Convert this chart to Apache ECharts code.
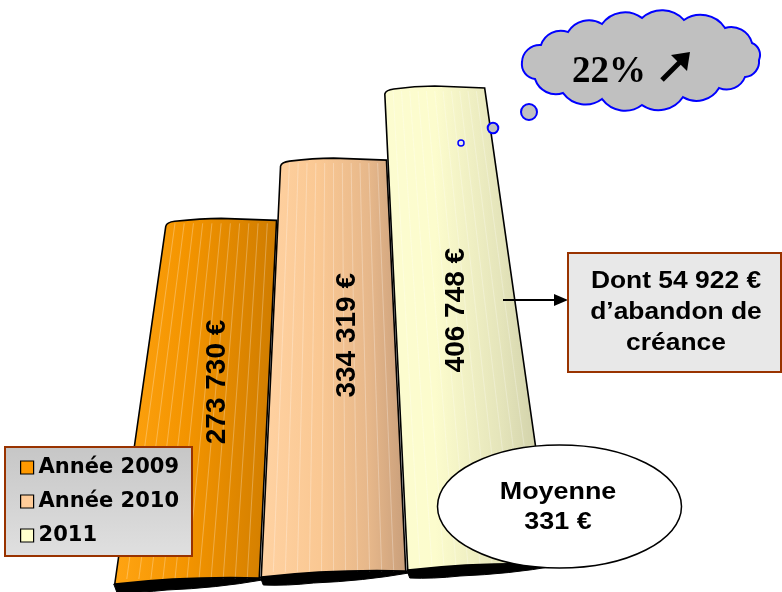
<!DOCTYPE html>
<html>
<head>
<meta charset="utf-8">
<script src="https://cdn.jsdelivr.net/npm/echarts@6/dist/echarts.min.js"></script>
<style>html,body{margin:0;padding:0;background:#fff}#c{width:782px;height:592px}</style>
</head>
<body>
<div id="c"></div>
<script>
// ---- data ----
const categories = ['Année 2009', 'Année 2010', '2011'];
const values = [273730, 334319, 406748];
const legendColors = ['#FF9900', '#FFCC99', '#FFFFCC'];
const abandonCreance = 54922;
const moyenne = 331;
const growthPct = 22;

const yMin = -90000, yMax = 440000;

function fmt(v) { return String(v).replace(/\B(?=(\d{3})+(?!\d))/g, ' ') + ' €'; }

const gradients = [
  [[0, '#FFA412'], [0.45, '#F39400'], [1, '#CF7C00']],
  [[0, '#FFD2A2'], [0.4, '#FAC893'], [0.75, '#E6B78A'], [1, '#C99F7B']],
  [[0, '#FCFCD0'], [0.3, '#FCFCCD'], [0.7, '#E4E4BA'], [1, '#CACAA4']]
];
// label placement style (fraction down the bar, extra x shift)
const labelStyle = [[0.45, 11], [0.425, 14], [0.465, 0]];

function makeGradient(stops) {
  return new echarts.graphic.LinearGradient(0, 0, 1, 0,
    stops.map(s => ({ offset: s[0], color: s[1] })));
}

function renderBar(params, api) {
  const cat = api.value(0), val = api.value(1);
  const bottom = api.coord([cat, yMin]);
  const cx = bottom[0];
  const yb = bottom[1] + 2 - 7 * cat;
  const yt = api.coord([cat, val])[1];
  const hw = api.size([1, 0])[0] / 2 - 1;
  const vpx = api.coord([1, yMin])[0];
  const vpy = yb - 1560;
  const bl = cx - hw, br = cx + hw;
  const t = (yb - yt) / (yb - vpy);
  const tl = bl + (vpx - bl) * t, tr = br + (vpx - br) * t;
  const tm = (tl + tr) / 2;
  const ybl = yb + 2, ybr = yb - 4;

  const body = `M${bl},${ybl} L${tl},${yt + 8} Q${tl + 1},${yt + 4} ${tl + 9},${yt + 3}` +
    ` Q${tm - 20},${yt} ${tm},${yt} Q${tm + 25},${yt + 1} ${tr},${yt + 2}` +
    ` L${br},${ybr} Q${cx},${yb - 6} ${bl},${ybl} Z`;
  const shadow = `M${bl - 1},${ybl} Q${cx},${yb - 6} ${br},${ybr} L${br + 3},${ybr + 2}` +
    ` Q${cx + 30},${yb + 6} ${cx - 20},${yb + 8} Q${bl + 25},${yb + 11} ${bl + 2},${yb + 10} Z`;

  const children = [];
  children.push({ type: 'path', shape: { pathData: shadow }, style: { fill: '#000', stroke: '#000', lineWidth: 1 } });
  children.push({ type: 'path', shape: { pathData: body }, style: { fill: makeGradient(gradients[cat]), stroke: 'none' } });
  const n = 11;
  for (let k = 1; k <= n; k++) {
    const f = k / (n + 1);
    const xb = bl + f * (br - bl), xt = tl + f * (tr - tl);
    children.push({ type: 'line', shape: { x1: xb, y1: yb - 3, x2: xt, y2: yt + 5 },
      style: { stroke: 'rgba(255,255,255,0.28)', lineWidth: 1 } });
  }
  children.push({ type: 'path', shape: { pathData: body }, style: { fill: 'none', stroke: '#000', lineWidth: 1.6 } });

  const ls = labelStyle[cat];
  const yc = yt + ls[0] * (yb - yt);
  const tt = (yb - yc) / (yb - vpy);
  const lx = ((bl + (vpx - bl) * tt) + (br + (vpx - br) * tt)) / 2 + ls[1];
  children.push({
    type: 'text', x: lx, y: yc, rotation: Math.PI / 2,
    style: { text: fmt(val), fill: '#000', fontSize: 28, fontWeight: 'bold',
      fontFamily: '"Liberation Sans", Arial, sans-serif',
      align: 'center', verticalAlign: 'middle', textAlign: 'center', textVerticalAlign: 'middle' }
  });
  return { type: 'group', children };
}

// cloud path
const cloudPts = [[522,62],[541,45],[568,32],[602,24],[642,18],[684,20],[725,28],[752,43],[759,60],[745,77],[719,88],[683,97],[642,105],[602,99],[563,93],[535,79]];
let cloudPath = `M${cloudPts[0][0]},${cloudPts[0][1]}`;
for (let i = 1; i <= cloudPts.length; i++) {
  const a = cloudPts[i - 1], b = cloudPts[i % cloudPts.length];
  const ch = Math.hypot(b[0] - a[0], b[1] - a[1]);
  const r = ch * 0.7;
  cloudPath += ` A${r},${r} 0 0 1 ${b[0]},${b[1]}`;
}
cloudPath += ' Z';
echarts.graphic.registerShape('cloudShape', echarts.graphic.extendPath(cloudPath, {}));

const chart = echarts.init(document.getElementById('c'), null, { renderer: 'canvas' });
const arial = '"Liberation Sans", Arial, sans-serif';

chart.setOption({
  animation: false,
  grid: { left: 113.75, right: 228.75, top: 53, bottom: 12 },
  xAxis: { type: 'category', data: categories, show: false },
  yAxis: { type: 'value', min: yMin, max: yMax, show: false },
  legend: {
    orient: 'vertical', left: 5, top: 447,
    data: categories, icon: 'rect', itemWidth: 13, itemHeight: 13, itemGap: 13, itemTextGap: 10,
    itemStyle: { borderColor: '#000', borderWidth: 1.2 },
    textStyle: { fontFamily: '"DejaVu Sans", Verdana, sans-serif', fontWeight: 'bold', fontSize: 21, color: '#000', lineHeight: 21 },
    padding: [10, 13, 10, 15],
    backgroundColor: new echarts.graphic.LinearGradient(0, 0, 0, 1, [
      { offset: 0, color: '#C6C6C6' }, { offset: 1, color: '#E0E0E0' }]),
    borderColor: '#993300', borderWidth: 2, borderRadius: 0,
    selectedMode: false
  },
  series: categories.map((c, i) => ({
    type: 'custom', name: c, renderItem: renderBar,
    itemStyle: { color: legendColors[i] },
    encode: { x: 0, y: 1 },
    data: [[i, values[i]]],
    z: 2 + i
  })),
  graphic: [
    // bubbles
    { type: 'circle', z: 100, shape: { cx: 529, cy: 112, r: 8 }, style: { fill: '#C0C0C0', stroke: '#0000FF', lineWidth: 2 } },
    { type: 'circle', z: 100, shape: { cx: 493, cy: 128, r: 5.3 }, style: { fill: '#C0C0C0', stroke: '#0000FF', lineWidth: 2 } },
    { type: 'circle', z: 100, shape: { cx: 461, cy: 143, r: 3 }, style: { fill: '#E8E8E8', stroke: '#0000FF', lineWidth: 1.5 } },
    // cloud
    { type: 'cloudShape', z: 100, style: { fill: '#C0C0C0', stroke: '#0000FF', lineWidth: 2 } },
    { type: 'text', z: 101, x: 609, y: 72,
      style: { text: growthPct + '%', fill: '#000', fontSize: 37, fontWeight: 'bold',
        fontFamily: '"Liberation Serif", "Times New Roman", serif',
        align: 'center', verticalAlign: 'middle', textAlign: 'center', textVerticalAlign: 'middle' } },
    { type: 'line', z: 101, shape: { x1: 662, y1: 80, x2: 682, y2: 60 }, style: { stroke: '#000', lineWidth: 5 } },
    { type: 'polygon', z: 101, shape: { points: [[690, 52], [671, 55], [687, 71]] }, style: { fill: '#000' } },
    // arrow to box
    { type: 'line', z: 100, shape: { x1: 503, y1: 300, x2: 556, y2: 300 }, style: { stroke: '#000', lineWidth: 2 } },
    { type: 'polygon', z: 100, shape: { points: [[568, 300], [554, 294], [554, 306]] }, style: { fill: '#000' } },
    // box
    { type: 'rect', z: 100, shape: { x: 568, y: 253, width: 213, height: 119 }, style: { fill: '#E8E8E8', stroke: '#993300', lineWidth: 2 } },
    { type: 'text', z: 101, x: 676, y: 312, scaleX: 1.1,
      style: { text: 'Dont ' + fmt(abandonCreance) + '\nd’abandon de\ncréance', fill: '#000',
        fontSize: 24, fontWeight: 'bold', fontFamily: arial, lineHeight: 31,
        align: 'center', verticalAlign: 'middle', textAlign: 'center', textVerticalAlign: 'middle' } },
    // ellipse
    { type: 'ellipse', z: 100, shape: { cx: 559.5, cy: 506.5, rx: 122, ry: 61.5 }, style: { fill: '#FFF', stroke: '#000', lineWidth: 1.5 } },
    { type: 'text', z: 101, x: 558, y: 507, scaleX: 1.12,
      style: { text: 'Moyenne\n' + moyenne + ' €', fill: '#000',
        fontSize: 24, fontWeight: 'bold', fontFamily: arial, lineHeight: 30,
        align: 'center', verticalAlign: 'middle', textAlign: 'center', textVerticalAlign: 'middle' } }
  ]
});
</script>
</body>
</html>
